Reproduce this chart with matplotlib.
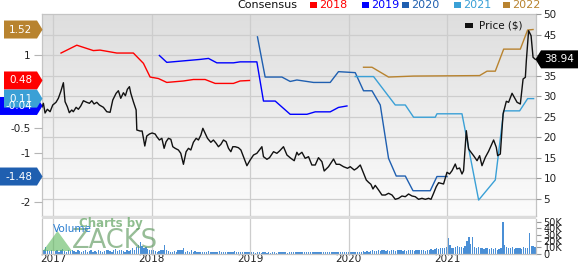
import numpy as np
import pandas as pd
import matplotlib
matplotlib.use("Agg")
import matplotlib.pyplot as plt
from matplotlib.patches import Polygon, Rectangle
from matplotlib.colors import LinearSegmentedColormap

plt.rcParams['font.family'] = ['DejaVu Sans']
plt.rcParams['axes.unicode_minus'] = False

# ---------------- data ----------------
price_t = [2016.888, 2016.902, 2016.919, 2016.942, 2016.970, 2016.997, 2017.030, 2017.054, 2017.078, 2017.105,
           2017.122, 2017.145, 2017.165, 2017.190, 2017.206, 2017.234, 2017.257, 2017.281, 2017.308, 2017.342,
           2017.369, 2017.393, 2017.416, 2017.444, 2017.470, 2017.511, 2017.545, 2017.579, 2017.606, 2017.640,
           2017.663, 2017.687, 2017.714, 2017.734, 2017.754, 2017.775, 2017.789, 2017.815, 2017.843, 2017.850,
           2017.883, 2017.904, 2017.931, 2017.951, 2017.978, 2018.005, 2018.036, 2018.053, 2018.079, 2018.104,
           2018.127, 2018.147, 2018.171, 2018.195, 2018.215, 2018.239, 2018.272, 2018.296, 2018.323, 2018.350,
           2018.374, 2018.398, 2018.424, 2018.452, 2018.475, 2018.500, 2018.520, 2018.543, 2018.567, 2018.601,
           2018.627, 2018.655, 2018.678, 2018.703, 2018.729, 2018.756, 2018.780, 2018.804, 2018.824, 2018.848,
           2018.881, 2018.906, 2018.932, 2018.967, 2019.000, 2019.034, 2019.068, 2019.094, 2019.119, 2019.135,
           2019.170, 2019.196, 2019.237, 2019.271, 2019.298, 2019.338, 2019.373, 2019.413, 2019.447, 2019.474,
           2019.490, 2019.525, 2019.558, 2019.592, 2019.626, 2019.660, 2019.693, 2019.728, 2019.751, 2019.795,
           2019.846, 2019.873, 2019.907, 2019.947, 2019.988, 2020.015, 2020.056, 2020.083, 2020.117, 2020.150,
           2020.178, 2020.201, 2020.225, 2020.246, 2020.269, 2020.303, 2020.337, 2020.371, 2020.404, 2020.439,
           2020.472, 2020.506, 2020.540, 2020.574, 2020.607, 2020.642, 2020.675, 2020.709, 2020.743, 2020.777,
           2020.810, 2020.835, 2020.861, 2020.888, 2020.912, 2020.936, 2020.962, 2020.997, 2021.023, 2021.048,
           2021.081, 2021.098, 2021.125, 2021.149, 2021.165, 2021.193, 2021.216, 2021.241, 2021.267, 2021.302,
           2021.328, 2021.352, 2021.386, 2021.419, 2021.444, 2021.470, 2021.497, 2021.511, 2021.538, 2021.566,
           2021.599, 2021.622, 2021.657, 2021.680, 2021.708, 2021.741, 2021.769, 2021.792, 2021.802, 2021.825,
           2021.850, 2021.870, 2021.893]
price_v = [27.32, 28.22, 25.85, 26.76, 26.17, 27.80, 28.46, 29.44, 31.05, 33.24,
           28.61, 27.39, 25.93, 26.59, 26.17, 27.24, 26.76, 27.56, 28.85, 28.46,
           28.22, 28.85, 28.05, 28.46, 27.80, 27.24, 26.17, 26.02, 29.02, 30.66,
           31.29, 29.44, 30.80, 30.07, 31.63, 32.27, 30.66, 28.61, 26.59, 21.71,
           21.46, 21.46, 17.80, 20.24, 20.73, 20.98, 20.73, 20.07, 19.27, 19.68,
           17.24, 18.85, 19.68, 19.44, 17.63, 17.24, 16.83, 16.02, 13.34, 16.41,
           17.24, 16.83, 18.71, 19.68, 19.27, 20.49, 22.12, 20.90, 19.68, 18.71,
           19.27, 18.46, 17.63, 18.22, 19.27, 18.85, 17.24, 16.41, 17.63, 17.63,
           17.39, 16.83, 15.20, 13.00, 14.39, 15.61, 16.02, 16.83, 17.63, 15.20,
           14.56, 14.95, 16.41, 16.02, 16.59, 17.63, 15.61, 14.80, 14.22, 16.27,
           15.61, 16.27, 14.80, 15.20, 13.17, 13.17, 14.95, 13.98, 11.71, 12.76,
           14.63, 13.34, 13.34, 12.76, 12.37, 12.76, 11.95, 12.37, 13.17, 11.15,
           9.51, 8.95, 8.46, 7.32, 8.20, 7.07, 5.85, 5.85, 6.27, 5.85,
           4.80, 5.05, 5.61, 5.44, 6.10, 5.61, 5.44, 4.80, 5.05, 4.80,
           5.05, 4.80, 6.27, 7.88, 8.85, 8.71, 8.54, 11.39, 10.98, 11.78,
           13.41, 12.20, 12.44, 10.98, 11.78, 21.54, 17.07, 16.27, 15.44, 14.22,
           15.44, 13.00, 15.05, 16.51, 17.88, 19.27, 17.49, 15.44, 15.85, 25.61,
           28.71, 28.46, 30.66, 29.68, 28.46, 28.05, 34.15, 34.56, 38.61, 45.93,
           44.71, 39.44, 38.94]

c2018_t = [2017.081, 2017.241, 2017.409, 2017.477, 2017.647, 2017.815, 2017.917, 2017.985, 2018.069,
           2018.154, 2018.323, 2018.424, 2018.543, 2018.645, 2018.830, 2018.898, 2018.993]
c2018_v = [1.04, 1.20, 1.09, 1.10, 1.04, 1.04, 0.83, 0.55, 0.52, 0.44, 0.47, 0.50, 0.50, 0.42, 0.42, 0.47, 0.48]

c2019_t = [2018.079, 2018.154, 2018.323, 2018.492, 2018.577, 2018.662, 2018.830, 2018.898, 2019.068,
           2019.135, 2019.254, 2019.406, 2019.576, 2019.660, 2019.812, 2019.896, 2019.982]
c2019_v = [0.99, 0.85, 0.88, 0.91, 0.93, 0.84, 0.84, 0.86, 0.86, 0.06, 0.06, -0.21, -0.21, -0.16, -0.16, -0.07, -0.04]

c2020_t = [2019.074, 2019.152, 2019.322, 2019.406, 2019.474, 2019.643, 2019.812, 2019.896, 2020.066, 2020.150,
           2020.236, 2020.320, 2020.404, 2020.482, 2020.574, 2020.652, 2020.827, 2020.895, 2020.997]
c2020_v = [1.37, 0.55, 0.55, 0.46, 0.49, 0.44, 0.44, 0.66, 0.64, 0.27, 0.27, -0.02, -1.11, -1.47, -1.47,
           -1.77, -1.77, -1.48, -1.48]

c2021_t = [2020.066, 2020.252, 2020.472, 2020.574, 2020.658, 2020.878, 2020.895, 2021.149, 2021.318, 2021.487,
           2021.572, 2021.734, 2021.815, 2021.876]
c2021_v = [0.56, 0.56, -0.02, -0.02, -0.27, -0.27, -0.20, -0.20, -1.96, -1.55, -0.14, -0.14, 0.11, 0.11]

c2022_t = [2020.150, 2020.236, 2020.404, 2020.658, 2021.328, 2021.403, 2021.487, 2021.572, 2021.741, 2021.815, 2021.870]
c2022_v = [0.75, 0.75, 0.55, 0.57, 0.58, 0.67, 0.67, 1.12, 1.12, 1.51, 1.52]

# weekly volume (thousands), weeks starting 2016-11-21
vol_2016 = [9, 6, 11, 5, 4, 6]
vol_2017 = [5, 4, 6, 3, 5, 7, 4, 3, 5, 4, 6, 4, 3, 5, 4, 3, 4, 6, 3, 4, 5, 3, 4, 3, 5, 4, 3, 4, 6, 5,
            4, 3, 5, 7, 4, 6, 5, 4, 3, 5, 4, 6, 8, 5, 10, 14, 18, 12, 9, 11, 7, 6]
vol_2018 = [5, 6, 4, 3, 4, 5, 6, 14, 5, 4, 3, 3, 4, 3, 6, 5, 6, 8, 3, 4, 3, 5, 3, 4, 3, 2, 3, 3, 2, 3,
            4, 3, 2, 3, 3, 2, 4, 3, 2, 3, 3, 2, 3, 3, 4, 2, 3, 2, 3, 2, 2, 3, 2]
vol_2019 = [2, 2, 1, 2, 2, 1, 2, 2, 1, 2, 1, 2, 2, 1, 2, 2, 2, 3, 2, 1, 2, 2, 2, 2, 3, 2, 3, 2, 2, 3,
            3, 2, 2, 3, 2, 2, 3, 2, 2, 2, 3, 2, 2, 3, 2, 2, 2, 3, 2, 2, 2, 3]
vol_2020 = [2, 2, 2, 3, 2, 3, 3, 4, 3, 4, 3, 4, 5, 4, 4, 5, 4, 5, 6, 4, 5, 4, 6, 5, 4, 5, 6, 5, 4, 5,
            4, 5, 6, 5, 4, 5, 6, 5, 6, 5, 4, 5, 6, 7, 6, 7, 8, 7, 8, 9, 8, 10]
vol_2021 = [24, 13, 9, 8, 10, 12, 11, 10, 9, 12, 20, 27, 15, 26, 11, 9, 10, 8, 9, 7, 9, 8, 7, 8, 7, 8, 6, 7, 8, 50,
            14, 10, 9, 8, 10, 7, 8, 9, 8, 7, 10, 9, 8, 33, 12, 12, 11]
vol_start = "2016-11-21"

year_ticks = [2017, 2018, 2019, 2020, 2021]
year_labels = ["2017", "2018", "2019", "2020", "2021"]
price_ticks = [5, 10, 15, 20, 25, 30, 35, 40, 45, 50]
# the 40 label sits under the last-price badge in the reference
price_labels = ["5", "10", "15", "20", "25", "30", "35", "", "45", "50"]
eps_ticks = [-2, -1.5, -1, -0.5, 0, 0.5, 1, 1.5]
# labels at -1.5, 0, 0.5 and 1.5 sit under the value badges in the reference
eps_labels = ["-2", "", "-1", "-0.5", "", "", "1", ""]
vol_ticks = [0, 10, 20, 30, 40, 50]
vol_labels = ["0", "10K", "20K", "30K", "40K", "50K"]

series_names = ["2018", "2019", "2020", "2021", "2022"]
series_colors = ["#ff0000", "#0000ff", "#1f5fb0", "#3aa0d6", "#b8832f"]

# ---------------- figure ----------------
W, H = 578, 265
fig = plt.figure(figsize=(W / 100, H / 100), dpi=100)


def fx(px):
    return px / W


def fy(py):
    return 1 - py / H


L, R, T, B = 42, 536, 14, 215.5
VT, VB = 219, 253.5
main_rect = [fx(L), fy(B), fx(R) - fx(L), fy(T) - fy(B)]
vol_rect = [fx(L), fy(VB), fx(R) - fx(L), fy(VT) - fy(VB)]

xlim = (2016.888, 2021.900)
price_lim = (0.854, 50)
eps_lim = (-2.2755, 1.8367)
vol_lim = (0, 54.8)
grid_c = "#cdcdcd"
frame_c = "#c4c4c4"

# background axes with gradient and grid
ax_bg = fig.add_axes(main_rect)
grad = np.linspace(0, 1, 256).reshape(-1, 1)
cmap = LinearSegmentedColormap.from_list("bg", ["#dedede", "#fcfcfc"])
ax_bg.imshow(grad, cmap=cmap, extent=[0, 1, 0, 1], transform=ax_bg.transAxes, aspect="auto", zorder=0)
ax_bg.set_xlim(xlim)
ax_bg.set_ylim(price_lim)
ax_bg.set_xticks(year_ticks)
ax_bg.set_yticks(price_ticks[:-1])
ax_bg.grid(True, color=grid_c, lw=0.9)
ax_bg.tick_params(length=0, labelleft=False, labelbottom=False)
for s in ax_bg.spines.values():
    s.set_color(frame_c)
    s.set_linewidth(0.9)

# EPS axes (left)
ax_eps = fig.add_axes(main_rect)
ax_eps.patch.set_alpha(0)
for s in ax_eps.spines.values():
    s.set_visible(False)
ax_eps.set_xlim(xlim)
ax_eps.set_ylim(eps_lim)
ax_eps.set_xticks([])
ax_eps.set_yticks(eps_ticks)
ax_eps.set_yticklabels(eps_labels)
ax_eps.tick_params(axis="y", left=True, right=False, length=5.5, width=0.8, color="#b5b5b5",
                   labelsize=7.5, pad=2.5, labelcolor="#222222")
all_t = [c2018_t, c2019_t, c2020_t, c2021_t, c2022_t]
all_v = [c2018_v, c2019_v, c2020_v, c2021_v, c2022_v]
for t, v, c in zip(all_t, all_v, series_colors):
    ax_eps.plot(t, v, color=c, lw=1.0, solid_joinstyle="round")

# price axes (right)
ax_p = fig.add_axes(main_rect)
ax_p.patch.set_alpha(0)
for s in ax_p.spines.values():
    s.set_visible(False)
ax_p.set_xlim(xlim)
ax_p.set_ylim(price_lim)
ax_p.set_xticks([])
ax_p.yaxis.tick_right()
ax_p.set_yticks(price_ticks)
ax_p.set_yticklabels(price_labels)
ax_p.tick_params(axis="y", length=3.5, width=0.8, color="#999999", labelsize=7.5, pad=2,
                 labelcolor="#222222")
ax_p.plot(price_t, price_v, color="#111111", lw=1.0)

# volume axes
ax_v = fig.add_axes(vol_rect)
vol = vol_2016 + vol_2017 + vol_2018 + vol_2019 + vol_2020 + vol_2021
dates = pd.date_range(vol_start, periods=len(vol), freq="7D")
vol_x = dates.year + (dates.dayofyear - 1) / np.where(dates.is_leap_year, 366, 365)
ax_v.bar(vol_x, vol, width=0.0135, color="#4a8fd6", align="center", lw=0)
ax_v.set_xlim(xlim)
ax_v.set_ylim(vol_lim)
ax_v.set_xticks(year_ticks)
ax_v.set_xticklabels(year_labels)
ax_v.grid(True, axis="x", color=grid_c, lw=0.9)
ax_v.yaxis.tick_right()
ax_v.set_yticks(vol_ticks)
ax_v.set_yticklabels(vol_labels)
ax_v.tick_params(axis="y", length=3.5, width=0.8, color="#999999", labelsize=7, pad=2,
                 labelcolor="#222222")
ax_v.tick_params(axis="x", length=0, labelsize=7.5, pad=0.6, labelcolor="#222222")
ax_v.spines["top"].set_visible(False)
for k in ["left", "right", "bottom"]:
    ax_v.spines[k].set_color(frame_c)
    ax_v.spines[k].set_linewidth(0.9)

# separator band
fig.add_artist(Rectangle((fx(L), fy(VT)), fx(R) - fx(L), fy(B) - fy(VT), transform=fig.transFigure,
                         facecolor="#dcdcdc", edgecolor="none"))

# watermark
fig.add_artist(Polygon([(fx(43), fy(251)), (fx(57.5), fy(231)), (fx(72), fy(251))], closed=True,
                       transform=fig.transFigure, facecolor="#5cb85c", edgecolor="none", alpha=0.6, zorder=4))
fig.text(fx(79), fy(223), "Charts by", fontsize=8.5, fontweight="bold", color="#6aa86a", alpha=0.75,
         ha="left", va="center", zorder=4)
fig.text(fx(72), fy(241.5), "ZACKS", fontsize=18.5, color="#5f9a5f", alpha=0.65,
         ha="left", va="center", zorder=4)
fig.text(fx(52.5), fy(228.5), "Volume", fontsize=7.5, color="#2a7dd0", ha="left", va="center", zorder=5)

# legend
fig.text(fx(237), fy(5.5), "Consensus", fontsize=8, color="#111111", ha="left", va="center")
leg_sq_x = [310, 362, 402, 454, 503]
for sx, name, c in zip(leg_sq_x, series_names, series_colors):
    fig.add_artist(Rectangle((fx(sx), fy(8)), fx(6.5), fy(1.5) - fy(8), transform=fig.transFigure,
                             facecolor=c, edgecolor="none"))
    fig.text(fx(sx + 9), fy(5.5), name, fontsize=8, color=c, ha="left", va="center")
fig.add_artist(Rectangle((fx(465), fy(27.5)), fx(8.5), fy(23) - fy(27.5), transform=fig.transFigure,
                         facecolor="#111111", edgecolor="none", zorder=5))
fig.text(fx(479), fy(25.5), "Price ($)", fontsize=7.5, color="#111111", ha="left", va="center", zorder=5)


# badges
def left_badge(val, text, color, x_left):
    py = H - ax_eps.transData.transform((xlim[0], val))[1]
    hh = 9
    pts = [(x_left, py - hh), (37, py - hh), (42.5, py), (37, py + hh), (x_left, py + hh)]
    fig.add_artist(Polygon([(fx(a), fy(b)) for a, b in pts], closed=True, transform=fig.transFigure,
                           facecolor=color, edgecolor="none", zorder=6))
    fig.text(fx((x_left + 37) / 2), fy(py), text, fontsize=7.5, color="white", ha="center",
             va="center", zorder=7)


left_badge(c2018_v[-1], "0.48", series_colors[0], 4)
left_badge(c2019_v[-1], "-0.04", series_colors[1], 0)
left_badge(c2021_v[-1], "0.11", series_colors[3], 4)
left_badge(c2022_v[-1], "1.52", series_colors[4], 4)
left_badge(c2020_v[-1], "-1.48", series_colors[2], 0)

py_p = H - ax_p.transData.transform((xlim[1], price_v[-1]))[1]
pts = [(535.5, py_p), (541, py_p - 9), (578, py_p - 9), (578, py_p + 9), (541, py_p + 9)]
fig.add_artist(Polygon([(fx(a), fy(b)) for a, b in pts], closed=True, transform=fig.transFigure,
                       facecolor="#000000", edgecolor="none", zorder=6))
fig.text(fx(559.5), fy(py_p), f"{price_v[-1]:.2f}", fontsize=7.5, color="white", ha="center",
         va="center", zorder=7)

fig.savefig("out.png", dpi=100)
